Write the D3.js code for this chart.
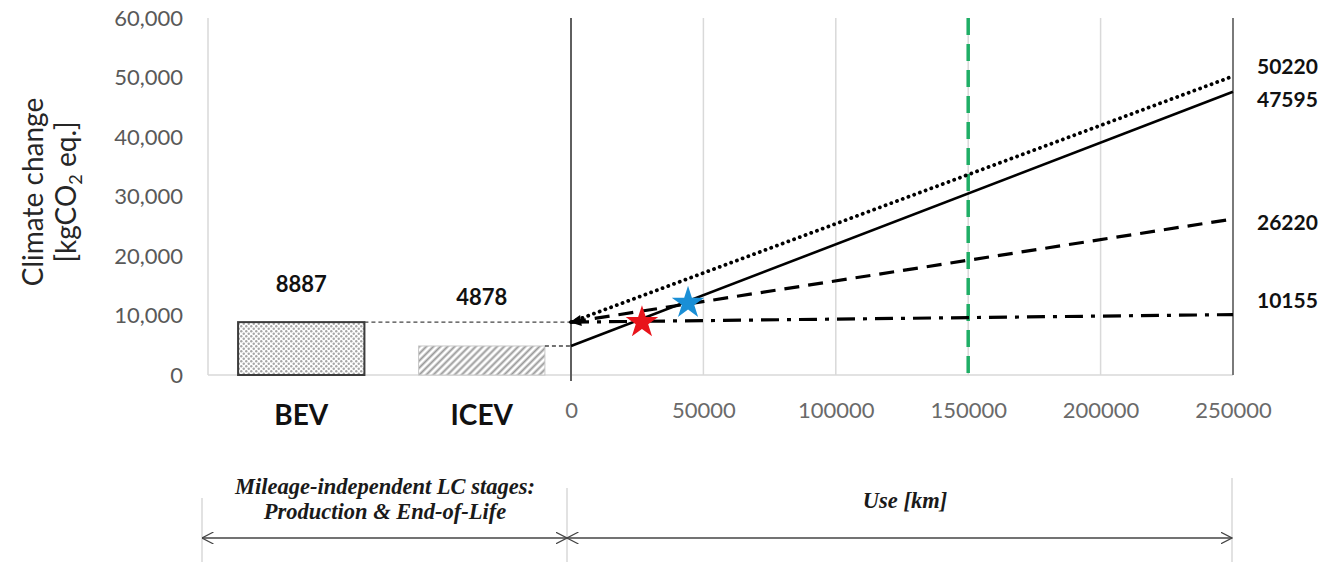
<!DOCTYPE html>
<html>
<head>
<meta charset="utf-8">
<script src="https://cdn.jsdelivr.net/npm/d3@7"></script>
<style>
  html, body { margin: 0; padding: 0; background: #ffffff; }
  svg { display: block; }
</style>
</head>
<body>
<svg id="chart" width="1334" height="569"></svg>
<script>
// Mileage-independent stages (production & end-of-life), kg CO2 eq.
const categories = ["BEV", "ICEV"];
const productionValues = [8887, 4878];

// Use phase: cumulative emissions from 0 km to 250 000 km
const lineNames = ["dotted", "solid", "dashed", "dashdot"];
const lineStartValues = [8887, 4878, 8887, 8887];
const lineEndValues = [50220, 47595, 26220, 10155];
const mileageRange = [0, 250000];

// Break-even markers
const starColors = ["#e8141b", "#1a8fd6"];
const starKm = [26800, 44200];
const starValues = [8850, 12100];

// Reference lifetime mileage
const referenceKm = 150000;

// Axis ticks
const yTicks = [0, 10000, 20000, 30000, 40000, 50000, 60000];
const xTicks = [0, 50000, 100000, 150000, 200000, 250000];

const svg = d3.select("#chart");
const FONT = "Lato, 'Open Sans', sans-serif";
const SERIF = "'Liberation Serif', 'DejaVu Serif', serif";

const y = d3.scaleLinear().domain([0, 60000]).range([375, 18]);
const xBand = d3.scaleBand().domain(categories).range([211, 572]).paddingInner(0.3).paddingOuter(0.15);
const x = d3.scaleLinear().domain(mileageRange).range([571, 1233]);

// Patterns and markers
const defs = svg.append("defs");
const dots = defs.append("pattern").attr("id", "dots").attr("patternUnits", "userSpaceOnUse")
  .attr("width", 5).attr("height", 5);
dots.append("rect").attr("width", 5).attr("height", 5).attr("fill", "#ffffff");
dots.append("circle").attr("cx", 1.25).attr("cy", 1.25).attr("r", 1.2).attr("fill", "#a6a6a6");
dots.append("circle").attr("cx", 3.75).attr("cy", 3.75).attr("r", 1.2).attr("fill", "#a6a6a6");

const hatch = defs.append("pattern").attr("id", "hatch").attr("patternUnits", "userSpaceOnUse")
  .attr("width", 5).attr("height", 5).attr("patternTransform", "rotate(45)");
hatch.append("rect").attr("width", 5).attr("height", 5).attr("fill", "#ffffff");
hatch.append("line").attr("x1", 1.5).attr("x2", 1.5).attr("y1", 0).attr("y2", 5)
  .attr("stroke", "#9a9a9a").attr("stroke-width", 2);

defs.append("marker").attr("id", "solidArrow").attr("viewBox", "0 0 10 10")
  .attr("refX", 9).attr("refY", 5).attr("markerWidth", 4).attr("markerHeight", 3.5)
  .attr("orient", "auto-start-reverse").attr("markerUnits", "strokeWidth")
  .append("path").attr("d", "M0,0 L10,5 L0,10 Z").attr("fill", "#000");

defs.append("marker").attr("id", "openArrow").attr("viewBox", "0 0 12 12")
  .attr("refX", 11.5).attr("refY", 6).attr("markerWidth", 12).attr("markerHeight", 12)
  .attr("orient", "auto-start-reverse").attr("markerUnits", "userSpaceOnUse")
  .append("path").attr("d", "M0,0 L11.5,6 L0,12").attr("fill", "none")
  .attr("stroke", "#444").attr("stroke-width", 1.2);

// Grid and frame
const g = svg.append("g");
g.selectAll("line.grid").data(xTicks.slice(1, -1)).join("line")
  .attr("class", "grid")
  .attr("x1", d => x(d)).attr("x2", d => x(d))
  .attr("y1", y(60000)).attr("y2", y(0))
  .attr("stroke", "#d9d9d9").attr("stroke-width", 1.5);

// left panel frame
g.append("line").attr("x1", 208).attr("x2", 208).attr("y1", y(60000)).attr("y2", y(0))
  .attr("stroke", "#d9d9d9").attr("stroke-width", 1.5);
g.append("line").attr("x1", 208).attr("x2", x(250000)).attr("y1", y(0)).attr("y2", y(0))
  .attr("stroke", "#d9d9d9").attr("stroke-width", 1.5);

// Y axis labels
const yAxis = d3.axisLeft(y).tickValues(yTicks).tickFormat(d3.format(",")).tickSize(0).tickPadding(25);
const ya = svg.append("g").attr("transform", "translate(208,0)").call(yAxis);
ya.select(".domain").remove();
ya.selectAll("text").attr("font-family", FONT).attr("font-size", 22).attr("fill", "#595959");

// X axis labels
const xAxis = d3.axisBottom(x).tickValues(xTicks).tickFormat(d3.format("d")).tickSize(0).tickPadding(27);
const xa = svg.append("g").attr("transform", `translate(0,${y(0)})`).call(xAxis);
xa.select(".domain").remove();
xa.selectAll("text").attr("font-family", FONT).attr("font-size", 22).attr("fill", "#6a6a6a");

// Use-phase frame lines
svg.append("line").attr("x1", x(0)).attr("x2", x(0)).attr("y1", y(60000)).attr("y2", y(0) + 6)
  .attr("stroke", "#5f5f5f").attr("stroke-width", 2);
svg.append("line").attr("x1", x(250000)).attr("x2", x(250000)).attr("y1", y(60000)).attr("y2", y(0))
  .attr("stroke", "#7a7a7a").attr("stroke-width", 2);

// Bars
const barFill = ["url(#dots)", "url(#hatch)"];
const barStroke = ["#3c3c3c", "#c8c8c8"];
svg.selectAll("rect.bar").data(categories).join("rect")
  .attr("class", "bar")
  .attr("x", d => xBand(d))
  .attr("width", xBand.bandwidth())
  .attr("y", (d, i) => y(productionValues[i]))
  .attr("height", (d, i) => y(0) - y(productionValues[i]))
  .attr("fill", (d, i) => barFill[i])
  .attr("stroke", (d, i) => barStroke[i])
  .attr("stroke-width", (d, i) => i === 0 ? 2 : 1);

// bar value labels
const barLabelLift = [30, 41];
svg.selectAll("text.barval").data(categories).join("text")
  .attr("class", "barval")
  .attr("x", d => xBand(d) + xBand.bandwidth() / 2)
  .attr("y", (d, i) => y(productionValues[i]) - barLabelLift[i])
  .attr("text-anchor", "middle")
  .attr("font-family", FONT).attr("font-weight", 700).attr("font-size", 22).attr("fill", "#111")
  .text((d, i) => productionValues[i]);

// category labels
svg.selectAll("text.cat").data(categories).join("text")
  .attr("class", "cat")
  .attr("x", d => xBand(d) + xBand.bandwidth() / 2)
  .attr("y", 425)
  .attr("text-anchor", "middle")
  .attr("font-family", FONT).attr("font-weight", 700).attr("font-size", 28).attr("fill", "#111")
  .text(d => d);

// connectors from bar tops to the use-phase origin
svg.selectAll("line.conn").data(categories).join("line")
  .attr("class", "conn")
  .attr("x1", d => xBand(d) + xBand.bandwidth())
  .attr("x2", x(0))
  .attr("y1", (d, i) => y(productionValues[i]))
  .attr("y2", (d, i) => y(productionValues[i]))
  .attr("stroke", "#444").attr("stroke-width", 1.3).attr("stroke-dasharray", "4,3");

// Reference mileage line
svg.append("line").attr("x1", x(referenceKm)).attr("x2", x(referenceKm))
  .attr("y1", y(60000)).attr("y2", y(0))
  .attr("stroke", "#1fae66").attr("stroke-width", 3.5).attr("stroke-dasharray", "17,9");

// Use-phase lines
const lineStyle = {
  dotted: { dash: "0.1,6", width: 3.8, cap: "round" },
  solid: { dash: null, width: 2.6, cap: "butt" },
  dashed: { dash: "15,9", width: 3.2, cap: "butt" },
  dashdot: { dash: "18,8,4,8", width: 3.2, cap: "butt" }
};
const line = d3.line().x(d => x(d[0])).y(d => y(d[1]));
lineNames.forEach((name, i) => {
  const s = lineStyle[name];
  const p = svg.append("path")
    .datum([[mileageRange[0], lineStartValues[i]], [mileageRange[1], lineEndValues[i]]])
    .attr("d", line)
    .attr("fill", "none").attr("stroke", "#000")
    .attr("stroke-width", s.width).attr("stroke-linecap", s.cap);
  if (s.dash) p.attr("stroke-dasharray", s.dash);
  if (name === "dashed") p.attr("marker-start", "url(#solidArrow)");
});

// End value labels
const endLabelNudge = [-10, 8, 3, -14];
svg.selectAll("text.endval").data(lineEndValues).join("text")
  .attr("class", "endval")
  .attr("x", 1257)
  .attr("y", (d, i) => y(d) + endLabelNudge[i])
  .attr("dy", "0.36em")
  .attr("font-family", FONT).attr("font-weight", 700).attr("font-size", 21).attr("fill", "#111")
  .text(d => d);

// Break-even stars
svg.selectAll("path.star").data(starKm).join("path")
  .attr("class", "star")
  .attr("transform", (d, i) => `translate(${x(d)},${y(starValues[i])})`)
  .attr("d", d3.symbol().type(d3.symbolStar).size(330))
  .attr("fill", (d, i) => starColors[i]);

// Y axis title
const title = svg.append("g").attr("transform", "translate(0,192) rotate(-90)");
title.append("text").attr("x", 0).attr("y", 43).attr("text-anchor", "middle")
  .attr("font-family", FONT).attr("font-size", 28).attr("fill", "#262626")
  .text("Climate change");
const unit = title.append("text").attr("x", 0).attr("y", 76).attr("text-anchor", "middle")
  .attr("font-family", FONT).attr("font-size", 28).attr("fill", "#262626");
unit.append("tspan").text("[kgCO");
unit.append("tspan").attr("font-size", 18).attr("dy", 6).text("2");
unit.append("tspan").attr("dy", -6).text(" eq.]");

// Stage annotation below the chart
const stageTicks = [[202, 498], [567, 488], [1232, 478]];
svg.selectAll("line.stagetick").data(stageTicks).join("line")
  .attr("class", "stagetick")
  .attr("x1", d => d[0]).attr("x2", d => d[0]).attr("y1", d => d[1]).attr("y2", 562)
  .attr("stroke", "#cfcfcf").attr("stroke-width", 1.2);

const spans = [[202, 567], [567, 1232]];
svg.selectAll("line.span").data(spans).join("line")
  .attr("class", "span")
  .attr("x1", d => d[0]).attr("x2", d => d[1]).attr("y1", 538).attr("y2", 538)
  .attr("stroke", "#444").attr("stroke-width", 1.4)
  .attr("marker-start", "url(#openArrow)").attr("marker-end", "url(#openArrow)");

const stageText = svg.append("g").attr("font-family", SERIF).attr("font-weight", 700)
  .attr("font-style", "italic").attr("font-size", 22.5).attr("fill", "#1a1a1a").attr("text-anchor", "middle");
stageText.append("text").attr("x", 385).attr("y", 494).text("Mileage-independent LC stages:");
stageText.append("text").attr("x", 385).attr("y", 519).text("Production & End-of-Life");
stageText.append("text").attr("x", 905).attr("y", 508).text("Use [km]");
</script>
</body>
</html>
